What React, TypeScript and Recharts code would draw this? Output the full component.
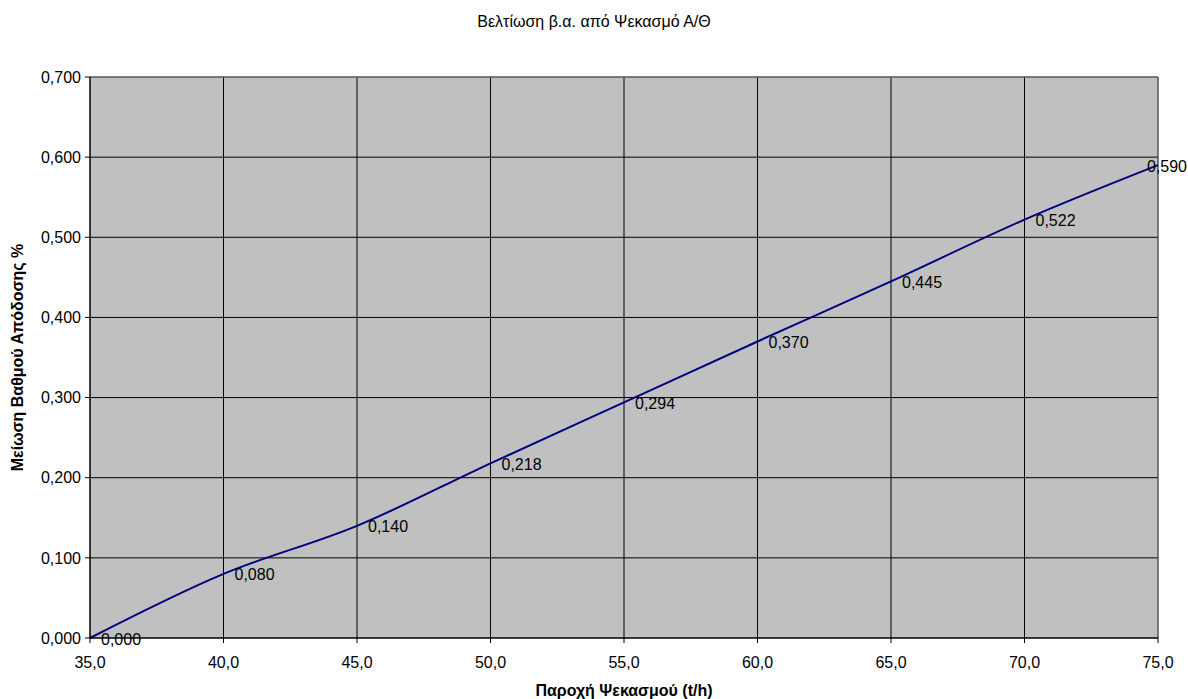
import { LineChart, Line, XAxis, YAxis, CartesianGrid, ReferenceLine, LabelList } from 'recharts';

const flowRates = [35, 40, 45, 50, 55, 60, 65, 70, 75];
const efficiencyDrop = [0.0, 0.08, 0.14, 0.218, 0.294, 0.37, 0.445, 0.522, 0.59];
const xTicks = [35, 40, 45, 50, 55, 60, 65, 70, 75];
const yTicks = [0, 0.1, 0.2, 0.3, 0.4, 0.5, 0.6, 0.7];

const data = flowRates.map((f, i) => ({ flow: f, value: efficiencyDrop[i] }));

const CHART_W = 1188;
const CHART_H = 699;
const FONT = '"Liberation Sans", Arial, sans-serif';

const comma = (v: number, digits: number) => v.toFixed(digits).replace('.', ',');

const PointLabel = (props: any) => {
  const { x, y, value } = props;
  const text = comma(Number(value), 3);
  const estWidth = 41;
  let lx = x + 11;
  let anchor: 'start' | 'end' = 'start';
  if (lx + estWidth > CHART_W) {
    lx = CHART_W - 1;
    anchor = 'end';
  }
  return (
    <text x={lx} y={y + 1} dominantBaseline="central" textAnchor={anchor}
      fontFamily={FONT} fontSize={16} fill="#000">
      {text}
    </text>
  );
};

export default function App() {
  return (
    <div style={{ position: 'absolute', left: 0, top: 0, width: CHART_W, height: CHART_H, background: '#fff' }}>
      <div style={{
        position: 'absolute', top: 13, left: 0, width: CHART_W, textAlign: 'center',
        fontFamily: FONT, fontSize: 16, color: '#000',
      }}>
        Βελτίωση β.α. από Ψεκασμό Α/Θ
      </div>
      <LineChart width={CHART_W} height={CHART_H} data={data}
        margin={{ top: 77, right: 30, bottom: 3, left: 0 }}>
        <CartesianGrid fill="#C0C0C0" stroke="#000" strokeOpacity={1} />
        <XAxis dataKey="flow" type="number" domain={[35, 75]} ticks={xTicks}
          tickFormatter={(v: number) => comma(v, 1)} interval={0}
          stroke="#000" tickSize={5} tickMargin={14} height={58}
          tick={{ fill: '#000', fontSize: 16, fontFamily: FONT }}
          label={{ value: 'Παροχή Ψεκασμού (t/h)', position: 'insideBottom', offset: 0,
            style: { fill: '#000', fontSize: 16, fontWeight: 'bold', fontFamily: FONT } }} />
        <YAxis type="number" domain={[0, 0.7]} ticks={yTicks} interval={0}
          tickFormatter={(v: number) => comma(v, 3)}
          stroke="#000" tickSize={5} tickMargin={4} width={90}
          tick={{ fill: '#000', fontSize: 16, fontFamily: FONT }}
          label={{ value: 'Μείωση Βαθμού Απόδοσης %', angle: -90, position: 'insideLeft', offset: 17,
            style: { textAnchor: 'middle', fill: '#000', fontSize: 16, fontWeight: 'bold', fontFamily: FONT } }} />
        <ReferenceLine x={75} stroke="#808080" />
        <ReferenceLine y={0.7} stroke="#808080" />
        <Line type="monotone" dataKey="value" stroke="#000080" strokeWidth={2}
          dot={false} isAnimationActive={false}>
          <LabelList dataKey="value" content={<PointLabel />} />
        </Line>
      </LineChart>
    </div>
  );
}
